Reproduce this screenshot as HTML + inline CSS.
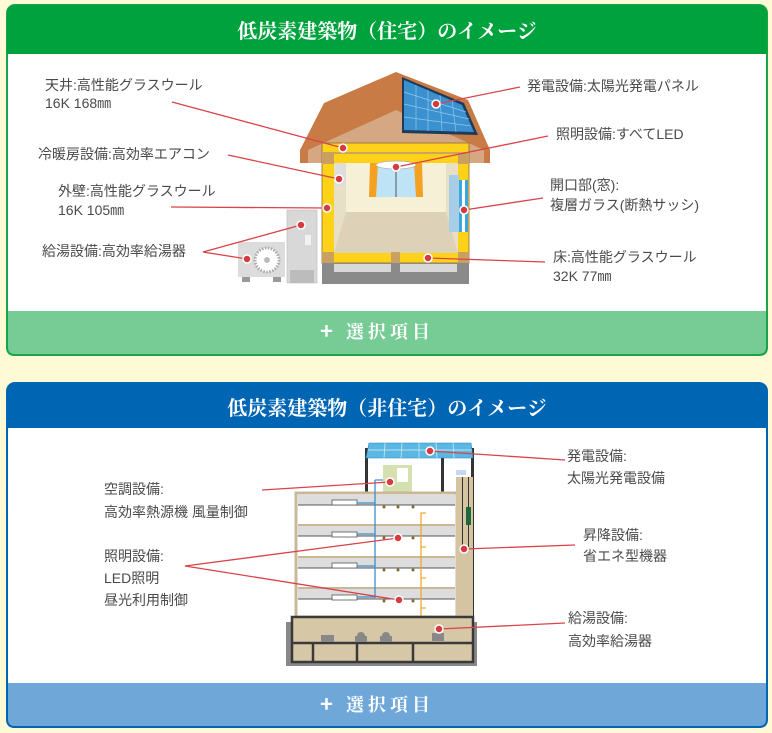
<!DOCTYPE html>
<html><head><meta charset="utf-8"><style>
html,body{margin:0;padding:0;background:#fefad6;}
svg{display:block;}
.t{font-family:"Liberation Sans","Noto Sans CJK JP",sans-serif;font-size:14px;fill:#4a4a4a;}
.h{font-family:"Noto Serif CJK JP","Liberation Serif",serif;font-size:20px;font-weight:bold;fill:#fff;}
.f{font-family:"Noto Serif CJK JP","Liberation Serif",serif;font-size:18px;font-weight:bold;fill:#fff;letter-spacing:4px;}
.p{font-family:"Noto Sans CJK JP","Liberation Sans",sans-serif;font-size:22px;font-weight:bold;fill:#fff;}
.ln{stroke:#d9444a;stroke-width:1.3;fill:none;}
.d{fill:#d43a3e;stroke:#fff;stroke-width:1.5;}
</style></head><body>
<svg width="772" height="733" viewBox="0 0 772 733" xmlns="http://www.w3.org/2000/svg">
<rect width="772" height="733" fill="#fefad6"/>
<!-- top panel -->
<rect x="7" y="5" width="760" height="350" rx="8" fill="#fff" stroke="#1aa34a" stroke-width="2"/>
<path d="M7,54 V13 Q7,5 15,5 H759 Q767,5 767,13 V54 Z" fill="#00a23e"/>
<text class="h" x="387" y="38" text-anchor="middle">低炭素建築物（住宅）のイメージ</text>
<path d="M7,310 H767 V347 Q767,355 759,355 H15 Q7,355 7,347 Z" fill="#76cc94" stroke="#1aa34a" stroke-width="2"/>
<rect x="8" y="309" width="758" height="2" fill="#fff"/>
<text class="p" x="320" y="339">+</text>
<text class="f" x="346" y="338">選択項目</text>

<!-- house -->
<path d="M300,150 L324,103 L396,72 L468,100 L490,150 L490,163 L300,163 Z" fill="#c97b45"/>
<path d="M308,163 L308,150 L396,110 L484,150 L484,163 Z" fill="#d6a783"/>
<path d="M402,77 L464,103 L478,135 L402,133 Z" fill="#1f3b5a"/>
<path d="M404,80 L462,105 L474,132 L404,130 Z" fill="#3b91d0"/>
<g stroke="#8fc6ea" stroke-width="0.7">
<line x1="404" y1="92" x2="466" y2="112"/><line x1="404" y1="104" x2="469" y2="119"/><line x1="404" y1="117" x2="471" y2="126"/>
<line x1="416" y1="85" x2="416" y2="130"/><line x1="428" y1="90" x2="428" y2="131"/><line x1="440" y1="95" x2="442" y2="131"/><line x1="452" y1="100" x2="456" y2="132"/>
</g>
<rect x="322" y="143" width="147" height="120" fill="#ffd21a" stroke="#8a6b3a" stroke-width="0.8"/>
<rect x="322" y="152" width="147" height="2" fill="#c9a760"/>
<rect x="334" y="163" width="124" height="90" fill="#e8e0c6"/>
<rect x="346" y="163" width="100" height="49" fill="#f6f0d6"/>
<path d="M346,212 H446 L458,253 H334 Z" fill="#ddd2b8"/>
<rect x="370" y="163" width="52" height="34" fill="#bfe3f6"/>
<line x1="396" y1="163" x2="396" y2="197" stroke="#555"/>
<path d="M370,163 L378,163 L376,197 L369,197 Z" fill="#f4a020"/>
<path d="M422,163 L414,163 L416,197 L423,197 Z" fill="#f4a020"/>
<ellipse cx="396" cy="165" rx="20" ry="4" fill="#fff" stroke="#aaa" stroke-width="0.7"/>
<rect x="336" y="164" width="10" height="22" fill="#ddd"/>
<rect x="449" y="175" width="10" height="57" fill="#a8cde6"/>
<rect x="459" y="180" width="9" height="52" fill="#3aa7e0"/>
<rect x="462" y="180" width="3" height="52" fill="#fff"/>
<rect x="322" y="152" width="12" height="12" fill="#c9a060"/><rect x="458" y="152" width="11" height="12" fill="#c9a060"/>
<rect x="322" y="252" width="12" height="11" fill="#c9a060"/><rect x="458" y="252" width="11" height="11" fill="#c9a060"/><rect x="391" y="252" width="9" height="11" fill="#c9a060"/>
<rect x="322" y="263" width="147" height="21" fill="#8a8a8a"/>
<rect x="334" y="264" width="57" height="8" fill="#d8d8d8"/><rect x="400" y="264" width="57" height="8" fill="#d8d8d8"/>
<rect x="287" y="210" width="30" height="73" fill="#d8d8d8" stroke="#bbb" stroke-width="0.6"/>
<rect x="305" y="235" width="6" height="10" fill="#f2f2f2"/>
<rect x="290" y="270" width="24" height="13" fill="#bcbcbc"/>
<rect x="238" y="242" width="47" height="35" fill="#dcdcdc"/>
<rect x="242" y="277" width="8" height="5" fill="#999"/><rect x="273" y="277" width="8" height="5" fill="#999"/>
<circle cx="267" cy="260" r="12" fill="#fff" stroke="#aaa" stroke-width="3" stroke-dasharray="1.5 1.5"/>
<circle cx="267" cy="260" r="3" fill="#bbb"/>

<g class="ln">
<line x1="172" y1="102" x2="343" y2="148"/>
<line x1="228" y1="155" x2="339" y2="179"/>
<line x1="171" y1="207" x2="327" y2="208"/>
<polyline points="301,225 203,252 247,259"/>
<line x1="520" y1="87" x2="436" y2="104"/>
<line x1="548" y1="136" x2="396" y2="167"/>
<line x1="543" y1="198" x2="464" y2="210"/>
<line x1="545" y1="262" x2="428" y2="258"/>
</g>
<g class="d">
<circle cx="343" cy="148" r="4"/><circle cx="436" cy="104" r="4"/><circle cx="396" cy="167" r="4"/>
<circle cx="339" cy="179" r="4"/><circle cx="327" cy="208" r="4"/><circle cx="464" cy="210" r="4"/>
<circle cx="301" cy="225" r="4"/><circle cx="247" cy="259" r="4"/><circle cx="428" cy="258" r="4"/>
</g>
<text class="t" x="45" y="90">天井:高性能グラスウール</text>
<text class="t" x="45" y="108">16K 168㎜</text>
<text class="t" x="38" y="159">冷暖房設備:高効率エアコン</text>
<text class="t" x="58" y="196">外壁:高性能グラスウール</text>
<text class="t" x="58" y="215">16K 105㎜</text>
<text class="t" x="42" y="256">給湯設備:高効率給湯器</text>
<text class="t" x="527" y="91">発電設備:太陽光発電パネル</text>
<text class="t" x="556" y="139">照明設備:すべてLED</text>
<text class="t" x="550" y="190">開口部(窓):</text>
<text class="t" x="550" y="210">複層ガラス(断熱サッシ)</text>
<text class="t" x="553" y="262">床:高性能グラスウール</text>
<text class="t" x="553" y="281">32K 77㎜</text>

<!-- bottom panel -->
<rect x="7" y="383" width="760" height="344" rx="8" fill="#fff" stroke="#0066b3" stroke-width="2"/>
<path d="M7,428 V391 Q7,383 15,383 H759 Q767,383 767,391 V428 Z" fill="#0066b3"/>
<text class="h" x="387" y="415" text-anchor="middle">低炭素建築物（非住宅）のイメージ</text>
<path d="M7,682 H767 V719 Q767,727 759,727 H15 Q7,727 7,719 Z" fill="#6fa8d8" stroke="#0066b3" stroke-width="2"/>
<rect x="8" y="681" width="758" height="2" fill="#fff"/>
<text class="p" x="320" y="712">+</text>
<text class="f" x="346" y="711">選択項目</text>

<!-- building -->
<rect x="365" y="448" width="3" height="45" fill="#333"/>
<rect x="441" y="458" width="3" height="35" fill="#333"/>
<rect x="471" y="448" width="3" height="172" fill="#333"/>
<path d="M369,443 L471,443 L473,458 L366,458 Z" fill="#5bb8e2" stroke="#2a7fb0" stroke-width="0.6"/>
<g stroke="#d8eef8" stroke-width="0.7"><line x1="368" y1="450" x2="472" y2="450"/><line x1="385" y1="443" x2="384" y2="458"/><line x1="402" y1="443" x2="401" y2="458"/><line x1="419" y1="443" x2="419" y2="458"/><line x1="436" y1="443" x2="437" y2="458"/><line x1="453" y1="443" x2="454" y2="458"/></g>
<rect x="383" y="465" width="29" height="28" fill="#d5e0b0"/>
<rect x="397" y="468" width="11" height="14" fill="#fff"/>
<rect x="456" y="470" width="10" height="5" fill="#c5d8ee"/>
<rect x="296" y="493" width="161" height="124" fill="#fff" stroke="#c8b898" stroke-width="3"/>
<g fill="#ddd"><rect x="298" y="495" width="157" height="10"/><rect x="298" y="526" width="157" height="10"/><rect x="298" y="558" width="157" height="10"/><rect x="298" y="589" width="157" height="10"/></g>
<g fill="#c8b898"><rect x="298" y="524" width="157" height="2"/><rect x="298" y="556" width="157" height="2"/><rect x="298" y="587" width="157" height="2"/></g>
<g stroke="#555" stroke-width="1"><line x1="298" y1="505" x2="455" y2="505"/><line x1="298" y1="536" x2="455" y2="536"/><line x1="298" y1="568" x2="455" y2="568"/><line x1="298" y1="599" x2="455" y2="599"/></g>
<g fill="#fff" stroke="#555" stroke-width="0.8"><rect x="332" y="500" width="25" height="5"/><rect x="332" y="532" width="25" height="5"/><rect x="332" y="563" width="25" height="5"/><rect x="332" y="595" width="25" height="5"/></g>
<g fill="#8a6a2a"><circle cx="384" cy="507" r="1.5"/><circle cx="398" cy="507" r="1.5"/><circle cx="413" cy="507" r="1.5"/><circle cx="384" cy="538" r="1.5"/><circle cx="413" cy="538" r="1.5"/><circle cx="384" cy="570" r="1.5"/><circle cx="398" cy="570" r="1.5"/><circle cx="413" cy="570" r="1.5"/><circle cx="384" cy="601" r="1.5"/><circle cx="413" cy="601" r="1.5"/></g>
<rect x="456" y="477" width="17" height="140" fill="#d4c4a2"/>
<rect x="462" y="477" width="1" height="70" fill="#333"/><rect x="468" y="477" width="1" height="70" fill="#333"/>
<rect x="466" y="507" width="5" height="18" fill="#1a6a3a"/>
<polyline points="375,480 375,598" stroke="#3a8fd0" stroke-width="1.3" fill="none"/>
<g stroke="#3a8fd0" stroke-width="1.2"><line x1="357" y1="503" x2="375" y2="503"/><line x1="357" y1="534" x2="375" y2="534"/><line x1="357" y1="566" x2="375" y2="566"/><line x1="357" y1="597" x2="375" y2="597"/><line x1="375" y1="480" x2="383" y2="480"/></g>
<polyline points="426,513 421,513 421,636 440,636" stroke="#f0a830" stroke-width="1.3" fill="none"/>
<g stroke="#f0a830" stroke-width="1.2"><line x1="421" y1="547" x2="426" y2="547"/><line x1="421" y1="578" x2="426" y2="578"/><line x1="421" y1="608" x2="426" y2="608"/></g>
<rect x="286" y="622" width="191" height="44" fill="#888"/>
<rect x="292" y="617" width="181" height="45" fill="#d6c8a6" stroke="#3a3a3a" stroke-width="2.5"/>
<line x1="292" y1="643" x2="473" y2="643" stroke="#3a3a3a" stroke-width="2.5"/>
<g stroke="#3a3a3a" stroke-width="2.5"><line x1="313" y1="643" x2="313" y2="662"/><line x1="357" y1="643" x2="357" y2="662"/><line x1="413" y1="643" x2="413" y2="662"/></g>
<g fill="#888"><rect x="321" y="635" width="13" height="7"/><rect x="355" y="636" width="12" height="6"/><circle cx="361" cy="636" r="4"/><rect x="380" y="636" width="12" height="6"/><circle cx="386" cy="636" r="4"/><rect x="432" y="633" width="12" height="8"/></g>
<g class="ln">
<line x1="565" y1="460" x2="430" y2="451"/>
<line x1="262" y1="490" x2="390" y2="482"/>
<polyline points="398,538 185,566 399,600"/>
<line x1="575" y1="545" x2="464" y2="549"/>
<line x1="565" y1="623" x2="439" y2="629"/>
</g>
<g class="d">
<circle cx="430" cy="451" r="4"/><circle cx="390" cy="482" r="4"/><circle cx="398" cy="538" r="4"/>
<circle cx="399" cy="600" r="4"/><circle cx="464" cy="549" r="4"/><circle cx="439" cy="629" r="4"/>
</g>
<text class="t" x="567" y="461">発電設備:</text>
<text class="t" x="567" y="483">太陽光発電設備</text>
<text class="t" x="104" y="494">空調設備:</text>
<text class="t" x="104" y="517">高効率熱源機 風量制御</text>
<text class="t" x="104" y="561">照明設備:</text>
<text class="t" x="104" y="583">LED照明</text>
<text class="t" x="104" y="605">昼光利用制御</text>
<text class="t" x="583" y="540">昇降設備:</text>
<text class="t" x="583" y="561">省エネ型機器</text>
<text class="t" x="568" y="623">給湯設備:</text>
<text class="t" x="568" y="646">高効率給湯器</text>
</svg>
</body></html>
